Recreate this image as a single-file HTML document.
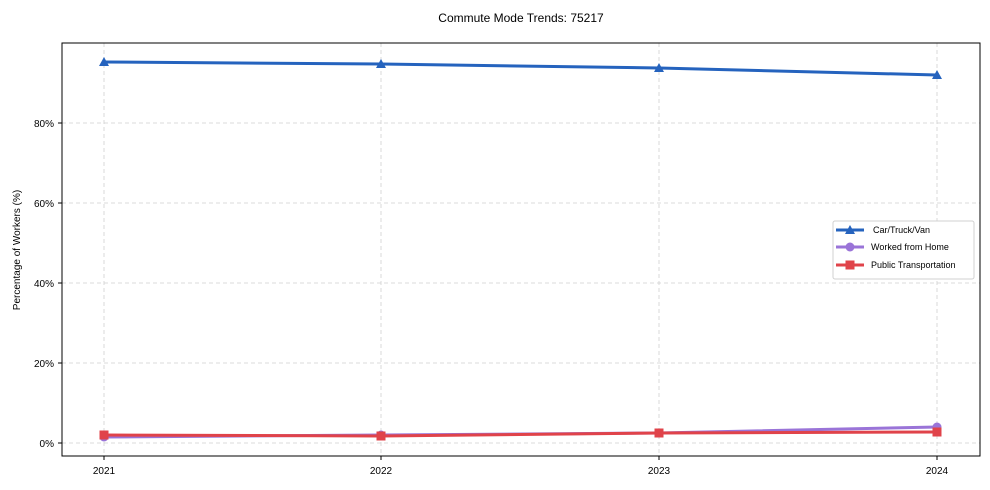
<!DOCTYPE html>
<html><head><meta charset="utf-8"><style>body{margin:0;background:#fff}svg{display:block}text{font-family:"Liberation Sans",Arial,sans-serif;fill:#000}</style></head><body>
<svg width="990" height="490" xmlns="http://www.w3.org/2000/svg">
<rect width="990" height="490" fill="#fff"/>
<text x="521" y="22" font-size="12" text-anchor="middle">Commute Mode Trends: 75217</text>
<g stroke="#d0d0d0" stroke-dasharray="4,3" stroke-width="0.8">
<line x1="62" x2="980" y1="443" y2="443"/><line x1="62" x2="980" y1="363" y2="363"/><line x1="62" x2="980" y1="283" y2="283"/><line x1="62" x2="980" y1="203" y2="203"/><line x1="62" x2="980" y1="123" y2="123"/>
<line x1="104" x2="104" y1="43" y2="456"/><line x1="381" x2="381" y1="43" y2="456"/><line x1="659" x2="659" y1="43" y2="456"/><line x1="937" x2="937" y1="43" y2="456"/>
</g>
<rect x="62" y="43" width="918" height="413" fill="none" stroke="#000" stroke-width="1"/>
<g stroke="#000"><line x1="58" x2="62" y1="443" y2="443"/><line x1="58" x2="62" y1="363" y2="363"/><line x1="58" x2="62" y1="283" y2="283"/><line x1="58" x2="62" y1="203" y2="203"/><line x1="58" x2="62" y1="123" y2="123"/>
<line x1="104" x2="104" y1="456" y2="460"/><line x1="381" x2="381" y1="456" y2="460"/><line x1="659" x2="659" y1="456" y2="460"/><line x1="937" x2="937" y1="456" y2="460"/></g>
<g font-size="10" text-anchor="end"><text x="54" y="447">0%</text><text x="54" y="367">20%</text><text x="54" y="287">40%</text><text x="54" y="207">60%</text><text x="54" y="127">80%</text></g>
<g font-size="10" text-anchor="middle"><text x="104" y="474">2021</text><text x="381" y="474">2022</text><text x="659" y="474">2023</text><text x="937" y="474">2024</text></g>
<text transform="translate(20,250) rotate(-90)" font-size="10" text-anchor="middle">Percentage of Workers (%)</text>
<polyline points="104,62 381,64 659,68 937,75" fill="none" stroke="#2563be" stroke-width="3"/>
<g fill="#2563be"><path d="M104,57 L109,66 L99,66Z"/><path d="M381,59 L386,68 L376,68Z"/><path d="M659,63 L664,72 L654,72Z"/><path d="M937,70 L942,79 L932,79Z"/></g>
<polyline points="104,437 381,435 659,433 937,427" fill="none" stroke="#9a74d8" stroke-width="3"/>
<g fill="#9a74d8"><circle cx="104" cy="437" r="4.5"/><circle cx="381" cy="435" r="4.5"/><circle cx="659" cy="433" r="4.5"/><circle cx="937" cy="427" r="4.5"/></g>
<polyline points="104,435 381,436 659,433 937,432" fill="none" stroke="#e0434a" stroke-width="3"/>
<g fill="#e0434a"><rect x="99.5" y="430.5" width="9" height="9"/><rect x="376.5" y="431.5" width="9" height="9"/><rect x="654.5" y="428.5" width="9" height="9"/><rect x="932.5" y="427.5" width="9" height="9"/></g>
<rect x="833" y="221" width="141" height="58" fill="#fff" stroke="#d0d0d0" rx="2"/>
<line x1="836" x2="864" y1="230" y2="230" stroke="#2563be" stroke-width="3"/><path d="M850,225 L855,234 L845,234Z" fill="#2563be"/>
<line x1="836" x2="864" y1="247" y2="247" stroke="#9a74d8" stroke-width="3"/><circle cx="850" cy="247" r="4.5" fill="#9a74d8"/>
<line x1="836" x2="864" y1="265" y2="265" stroke="#e0434a" stroke-width="3"/><rect x="845.5" y="260.5" width="9" height="9" fill="#e0434a"/>
<g font-size="9"><text x="873" y="233">Car/Truck/Van</text><text x="871" y="250">Worked from Home</text><text x="871" y="268">Public Transportation</text></g>
</svg>
</body></html>
